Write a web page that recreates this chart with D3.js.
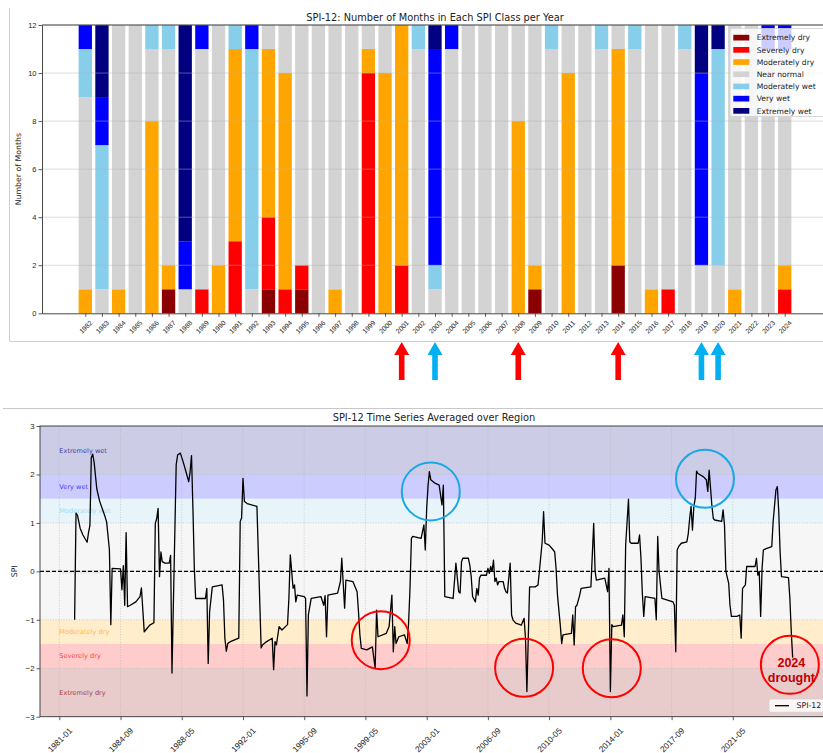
<!DOCTYPE html>
<html>
<head>
<meta charset="utf-8">
<script src="https://cdn.jsdelivr.net/npm/d3@7"></script>
<style>
  body { margin: 0; background: #fff; }
  svg { display: block; font-family: 'DejaVu Sans', sans-serif; }
</style>
</head>
<body>
<svg width="823" height="753"></svg>
<script>
// ---- data: months per SPI class per year (top panel)
const years = [1982, 1983, 1984, 1985, 1986, 1987, 1988, 1989, 1990, 1991, 1992, 1993, 1994, 1995,
  1996, 1997, 1998, 1999, 2000, 2001, 2002, 2003, 2004, 2005, 2006, 2007, 2008, 2009, 2010, 2011,
  2012, 2013, 2014, 2015, 2016, 2017, 2018, 2019, 2020, 2021, 2022, 2023, 2024]
const classNames = ['Extremely dry', 'Severely dry', 'Moderately dry', 'Near normal', 'Moderately wet', 'Very wet', 'Extremely wet']
const classColors = ['#8b0000', '#ff0000', '#ffa500', '#d3d3d3', '#87ceeb', '#0000ff', '#000080']
const extremelyDry = [0,0,0,0,0,1,0,0,0,0,0,1,0,1,0,0,0,0,0,0,0,0,0,0,0,0,0,1,0,0,0,0,2,0,0,0,0,0,0,0,0,0,0]
const severelyDry = [0,0,0,0,0,0,0,1,0,3,0,3,1,1,0,0,0,10,0,2,0,0,0,0,0,0,0,0,0,0,0,0,0,0,0,1,0,0,0,0,0,0,1]
const moderatelyDry = [1,0,1,0,8,1,0,0,2,8,0,7,9,0,0,1,0,1,10,10,0,0,0,0,0,0,8,1,0,10,0,0,9,0,1,0,0,0,0,1,0,0,1]
const nearNormal = [8,1,11,12,3,9,1,10,10,0,1,1,2,10,12,11,12,1,2,0,11,1,11,12,12,12,4,10,11,2,12,11,1,11,11,11,11,2,2,11,12,11,9]
const moderatelyWet = [2,6,0,0,1,1,0,0,0,1,10,0,0,0,0,0,0,0,0,0,1,1,0,0,0,0,0,0,1,0,0,1,0,1,0,0,1,0,9,0,0,0,0]
const veryWet = [1,2,0,0,0,0,2,1,0,0,1,0,0,0,0,0,0,0,0,0,0,9,1,0,0,0,0,0,0,0,0,0,0,0,0,0,0,8,0,0,0,1,1]
const extremelyWet = [0,3,0,0,0,0,9,0,0,0,0,0,0,0,0,0,0,0,0,0,0,1,0,0,0,0,0,0,0,0,0,0,0,0,0,0,0,2,1,0,0,0,0]
const countTicks = [0, 2, 4, 6, 8, 10, 12]

// years marked with arrows under the bars
const dryArrowYears = [2001, 2008, 2014]
const wetArrowYears = [2003, 2019, 2020]

// ---- data: SPI-12 averaged over region (bottom panel)
const spiMonths = ['1981-12','1982-01','1982-02','1982-04','1982-06','1982-09','1982-10','1982-11','1982-12',
  '1983-01','1983-02','1983-04','1983-06','1983-10','1983-11','1984-01','1984-02','1984-03','1984-09',
  '1984-10','1984-11','1984-12','1985-01','1985-02','1985-04','1985-08','1985-11','1985-12','1986-02',
  '1986-04','1986-06','1986-09','1986-10','1986-11','1986-12','1987-01','1987-02','1987-03','1987-05',
  '1987-08','1987-09','1987-10','1988-01','1988-02','1988-04','1988-06','1988-08','1988-10','1988-11',
  '1988-12','1989-01','1989-02','1989-03','1989-10','1989-11','1989-12','1990-01','1990-03','1990-10',
  '1990-11','1990-12','1991-01','1991-02','1991-04','1991-10','1991-11','1991-12','1992-01','1992-02',
  '1992-04','1992-11','1993-02','1993-03','1993-06','1993-10','1993-11','1993-12','1994-01','1994-03',
  '1994-05','1994-09','1994-10','1994-11','1995-01','1995-02','1995-03','1995-04','1995-09','1995-10',
  '1995-11','1995-12','1996-02','1996-09','1996-11','1996-12','1997-01','1997-02','1997-09','1997-11',
  '1997-12','1998-02','1998-03','1998-08','1998-11','1998-12','1999-01','1999-02','1999-06','1999-10',
  '1999-12','2000-01','2000-02','2000-08','2000-10','2000-12','2001-01','2001-02','2001-03','2001-05',
  '2001-09','2001-11','2001-12','2002-01','2002-02','2002-03','2002-09','2002-11','2002-12','2003-01',
  '2003-02','2003-03','2003-04','2003-07','2003-10','2003-12','2004-01','2004-02','2004-08','2004-10',
  '2004-12','2005-01','2005-02','2005-03','2005-07','2005-08','2005-09','2005-10','2005-12','2006-01',
  '2006-02','2006-03','2006-04','2006-08','2006-09','2006-10','2006-11','2006-12','2007-01','2007-02',
  '2007-03','2007-04','2007-05','2007-08','2007-09','2007-10','2007-11','2008-01','2008-02','2008-03',
  '2008-05','2008-09','2008-11','2008-12','2009-01','2009-03','2009-07','2009-09','2009-10','2009-12',
  '2010-01','2010-02','2010-05','2010-08','2010-09','2010-10','2010-11','2011-01','2011-02','2011-03',
  '2011-09','2011-10','2011-11','2011-12','2012-01','2012-03','2012-04','2012-11','2013-01','2013-02',
  '2013-03','2013-09','2013-11','2013-12','2014-01','2014-02','2014-03','2014-09','2014-10','2014-11',
  '2014-12','2015-02','2015-03','2015-04','2015-09','2015-10','2015-11','2015-12','2016-01','2016-02',
  '2016-09','2016-10','2016-11','2016-12','2017-02','2017-10','2017-11','2017-12','2018-01','2018-02',
  '2018-04','2018-08','2018-09','2018-10','2018-11','2018-12','2019-01','2019-02','2019-03','2019-04',
  '2019-08','2019-10','2019-11','2019-12','2020-02','2020-03','2020-04','2020-09','2020-10','2020-11',
  '2020-12','2021-02','2021-03','2021-04','2021-08','2021-10','2021-11','2021-12','2022-02','2022-03',
  '2022-09','2022-10','2022-11','2022-12','2023-01','2023-02','2023-03','2023-05','2023-09','2023-10',
  '2023-12','2024-01','2024-02','2024-03','2024-04','2024-09','2024-10','2024-11','2024-12']
const spiValues = [-1.0, 1.2, 1.16, 0.89, 0.75, 0.6, 0.8, 0.95, 2.35,
  2.42, 2.25, 1.7, 1.45, 1.12, 1.02, 0.45, -1.1, 0.06, 0.05,
  -0.38, 0.12, -0.7, 0.8, -0.73, -0.7, -0.63, -0.52, -0.34, -1.25,
  -1.18, -1.11, -1.06, 0.99, 1.09, 1.3, -0.11, 0.4, 0.2, 0.17,
  0.17, 0.33, -2.1, 2.2, 2.4, 2.44, 2.26, 2.06, 1.85, 2.06,
  2.39, 1.3, 0.06, -0.56, -0.56, -0.35, -1.9, -0.83, -0.32, -0.28,
  -0.6, -1.38, -1.65, -1.49, -1.45, -1.38, 1.03, 1.1, 1.92, 1.44,
  1.4, 1.34, -1.58, -1.52, -1.45, -1.38, -2.03, -1.45, -1.52, -1.14,
  -1.21, -1.1, -0.56, 0.34, -0.35, -0.28, -0.63, -0.49, -0.52, -0.56,
  -2.57, -0.9, -0.56, -0.52, -0.7, -0.5, -1.35, -0.49, -0.45, -0.21,
  0.27, -0.76, -0.18, -0.21, -0.42, -0.83, -1.31, -1.59, -1.62, -1.56,
  -2.0, -0.8, -1.35, -1.28, -1.14, -0.49, -1.66, -1.14, -1.49, -1.35,
  -1.31, -1.49, -1.07, -0.35, 0.68, 0.72, 0.68, 0.96, 0.44, 1.3,
  1.78, 2.06, 1.89, 1.82, 1.78, 1.37, 1.78, -0.52, -0.56, 0.17,
  -0.42, -0.45, 0.2, 0.27, 0.27, 0.13, -0.11, -0.52, -0.63, -0.35,
  -0.49, -0.14, -0.08, -0.08, 0.06, -0.04, 0.1, 0.0, 0.23, -0.21,
  -0.14, -0.28, -0.21, -0.21, -0.35, -0.42, -0.45, 0.17, -0.9, -1.0,
  -1.07, -1.11, -0.97, -1.38, -2.48, -0.32, -0.32, -0.28, 0.0, 0.61,
  1.23, 0.58, 0.54, 0.44, 0.4, 0.06, -0.49, -1.11, -1.49, -1.31,
  -1.28, -0.9, -1.52, -0.73, -0.7, -0.49, -0.35, -0.32, 0.99, 0.0,
  -0.18, -0.14, -0.42, 0.06, -2.48, -1.1, -1.14, -1.11, -0.9, -1.35,
  0.54, 1.49, 0.61, 0.58, 0.58, 0.75, 0.27, -0.45, -0.93, -0.52,
  -0.56, -1.0, 0.72, 0.0, -0.56, -0.63, -0.7, -1.66, 0.44, 0.51,
  0.58, 0.61, 0.78, 1.09, 1.34, 0.85, 1.34, 1.51, 2.07, 2.02,
  1.95, 1.89, 1.65, 2.09, 1.34, 1.09, 1.06, 1.03, 1.27, 0.96,
  0.0, -0.25, -0.7, -0.93, -0.93, -0.9, -1.38, -0.35, -0.28, 0.1,
  0.1, 0.27, -0.08, 0.0, -0.93, 0.06, 0.44, 0.47, 0.51, 1.03,
  1.68, 1.75, 1.23, 0.41, -0.11, -0.13, -0.56, -1.25, -1.78]

// SPI class bands for the background
const bandLow = [-3, -2, -1.5, -1, 1, 1.5, 2]
const bandHigh = [-2, -1.5, -1, 1, 1.5, 2, 3]
const bandMid = [-2.5, -1.75, -1.25, 0, 1.25, 1.75, 2.5]
const spiTicks = [-3, -2, -1, 0, 1, 2, 3]
const timeTicks = ['1981-01', '1984-09', '1988-05', '1992-01', '1995-09', '1999-05', '2003-01',
  '2006-09', '2010-05', '2014-01', '2017-09', '2021-05']

// circled episodes: [month, spi, colour]
const circles = [
  ['2000-04', -1.42, '#ff0000'],
  ['2003-04', 1.65, '#1aa7e6'],
  ['2008-11', -1.99, '#ff0000'],
  ['2014-02', -2.0, '#ff0000'],
  ['2019-09', 1.91, '#1aa7e6'],
  ['2024-10', -1.93, '#ff0000']
]

const svg = d3.select('svg')
const parseMonth = d3.timeParse('%Y-%m')
const textColor = '#222'

//#region frames
svg.append('path')
  .attr('d', 'M9.5,8 V341.5 H823')
  .attr('fill', 'none').attr('stroke', '#cfcfcf')
svg.append('path')
  .attr('d', 'M3,408.5 H823')
  .attr('fill', 'none').attr('stroke', '#c8c8c8')
//#endregion

//#region TOP: stacked bars
const topBox = { left: 42, right: 828, top: 25, bottom: 313.3 }
const xYear = d3.scaleLinear().domain([1979.4, 2026.6]).range([topBox.left, topBox.right])
const yCount = d3.scaleLinear().domain([0, 12]).range([topBox.bottom, topBox.top])

const table = years.map((year, i) => ({
  year,
  'Extremely dry': extremelyDry[i],
  'Severely dry': severelyDry[i],
  'Moderately dry': moderatelyDry[i],
  'Near normal': nearNormal[i],
  'Moderately wet': moderatelyWet[i],
  'Very wet': veryWet[i],
  'Extremely wet': extremelyWet[i]
}))
const stacked = d3.stack().keys(classNames)(table)
const colorOf = d3.scaleOrdinal().domain(classNames).range(classColors)

svg.append('g')
  .selectAll('g')
  .data(stacked)
  .join('g')
  .attr('fill', d => colorOf(d.key))
  .selectAll('rect')
  .data(d => d.filter(s => s[1] > s[0]))
  .join('rect')
  .attr('x', d => xYear(d.data.year - 0.4))
  .attr('width', d => xYear(d.data.year + 0.4) - xYear(d.data.year - 0.4))
  .attr('y', d => yCount(d[1]))
  .attr('height', d => yCount(d[0]) - yCount(d[1]))

// grid drawn over the bars
svg.append('g')
  .selectAll('line')
  .data(countTicks.slice(1))
  .join('line')
  .attr('x1', topBox.left).attr('x2', topBox.right)
  .attr('y1', d => yCount(d)).attr('y2', d => yCount(d))
  .attr('stroke', '#b0b0b0').attr('stroke-opacity', 0.6).attr('stroke-width', 0.8)

const yAxisTop = svg.append('g')
  .attr('transform', `translate(${topBox.left},0)`)
  .call(d3.axisLeft(yCount).tickValues(countTicks).tickSize(3.5).tickSizeOuter(0).tickPadding(2))
yAxisTop.selectAll('text').attr('font-size', '7.5px').attr('fill', textColor)

const xAxisTop = svg.append('g')
  .attr('transform', `translate(0,${topBox.bottom})`)
  .call(d3.axisBottom(xYear).tickValues(years).tickFormat(d3.format('d')).tickSize(3.5).tickSizeOuter(0))
xAxisTop.selectAll('text')
  .attr('font-size', '6.8px').attr('fill', textColor)
  .attr('text-anchor', 'middle').attr('dy', '0.35em').attr('y', 0)
  .attr('transform', function (d) {
    const h = 0.707 * (this.getComputedTextLength() + 6.8)
    return `translate(0,${6 + h / 2}) rotate(-45)`
  })

svg.selectAll('.domain').attr('stroke', '#333').attr('stroke-width', 0.9)
svg.selectAll('.tick line').attr('stroke', '#333').attr('stroke-width', 0.8)

svg.append('line')
  .attr('x1', topBox.left).attr('x2', topBox.right)
  .attr('y1', topBox.top).attr('y2', topBox.top)
  .attr('stroke', '#333').attr('stroke-width', 0.9)

svg.append('text')
  .attr('x', 435).attr('y', 20.5)
  .attr('text-anchor', 'middle').attr('font-size', '9.8px').attr('fill', textColor)
  .text('SPI-12: Number of Months in Each SPI Class per Year')

svg.append('text')
  .attr('transform', `translate(20.5,${(topBox.top + topBox.bottom) / 2}) rotate(-90)`)
  .attr('text-anchor', 'middle').attr('font-size', '7.8px').attr('fill', textColor)
  .text('Number of Months')

// legend
const legTop = svg.append('g').attr('transform', 'translate(730,28.5)')
legTop.append('rect')
  .attr('width', 100).attr('height', 88).attr('rx', 2.5)
  .attr('fill', '#fff').attr('fill-opacity', 0.8).attr('stroke', '#d0d0d0').attr('stroke-width', 0.8)
const legItems = legTop.selectAll('g.item')
  .data(classNames)
  .join('g')
  .attr('class', 'item')
  .attr('transform', (d, i) => `translate(0,${9.2 + i * 12.2})`)
legItems.append('rect')
  .attr('x', 3.3).attr('y', -2.9).attr('width', 16).attr('height', 5.7)
  .attr('fill', d => colorOf(d))
legItems.append('text')
  .attr('x', 26.7).attr('dy', '0.35em')
  .attr('font-size', '7.6px').attr('fill', textColor)
  .text(d => d)
//#endregion

//#region arrows between panels
const arrowPath = 'M0,0 L7.5,13 L2.8,13 L2.8,38 L-2.8,38 L-2.8,13 L-7.5,13 Z'
const arrows = dryArrowYears.map(y => [y, '#ff0000']).concat(wetArrowYears.map(y => [y, '#00b0f0']))
svg.append('g')
  .selectAll('path')
  .data(arrows)
  .join('path')
  .attr('transform', d => `translate(${xYear(d[0])},342)`)
  .attr('d', arrowPath)
  .attr('fill', d => d[1])
//#endregion

//#region BOTTOM: SPI time series
const bot = { left: 40, right: 828, top: 426, bottom: 716.7 }
const xTime = d3.scaleTime()
  .domain([new Date(1979, 10, 5), new Date(2027, 0, 13)])
  .range([bot.left, bot.right])
const ySpi = d3.scaleLinear().domain([-3, 3]).range([bot.bottom, bot.top])

svg.append('clipPath').attr('id', 'plot-clip')
  .append('rect')
  .attr('x', bot.left).attr('y', bot.top)
  .attr('width', bot.right - bot.left).attr('height', bot.bottom - bot.top)

const plot = svg.append('g').attr('clip-path', 'url(#plot-clip)')

plot.selectAll('rect.band')
  .data(classNames)
  .join('rect')
  .attr('class', 'band')
  .attr('x', bot.left).attr('width', bot.right - bot.left)
  .attr('y', (d, i) => ySpi(bandHigh[i]))
  .attr('height', (d, i) => ySpi(bandLow[i]) - ySpi(bandHigh[i]))
  .attr('fill', d => colorOf(d)).attr('fill-opacity', 0.2)

// dotted grid
plot.selectAll('line.vgrid')
  .data(timeTicks)
  .join('line')
  .attr('class', 'vgrid')
  .attr('x1', d => xTime(parseMonth(d))).attr('x2', d => xTime(parseMonth(d)))
  .attr('y1', bot.top).attr('y2', bot.bottom)
  .attr('stroke', '#b0b0b0').attr('stroke-opacity', 0.7).attr('stroke-width', 0.8)
  .attr('stroke-dasharray', '1,1.6')
plot.selectAll('line.hgrid')
  .data(spiTicks)
  .join('line')
  .attr('class', 'hgrid')
  .attr('x1', bot.left).attr('x2', bot.right)
  .attr('y1', d => ySpi(d)).attr('y2', d => ySpi(d))
  .attr('stroke', '#b0b0b0').attr('stroke-opacity', 0.7).attr('stroke-width', 0.8)
  .attr('stroke-dasharray', '1,1.6')

plot.selectAll('text.band-label')
  .data(classNames)
  .join('text')
  .attr('class', 'band-label')
  .attr('x', xTime(parseMonth('1981-01')))
  .attr('y', (d, i) => ySpi(bandMid[i]))
  .attr('dy', '0.35em')
  .attr('font-size', '6.6px')
  .attr('fill', d => colorOf(d)).attr('fill-opacity', 0.75)
  .text(d => d)

plot.append('line')
  .attr('x1', bot.left).attr('x2', bot.right)
  .attr('y1', ySpi(0)).attr('y2', ySpi(0))
  .attr('stroke', '#000').attr('stroke-width', 1.2).attr('stroke-dasharray', '4,2')

const spiLine = d3.line()
  .x((d, i) => xTime(parseMonth(spiMonths[i])))
  .y(d => ySpi(d))
plot.append('path')
  .datum(spiValues)
  .attr('d', spiLine)
  .attr('fill', 'none')
  .attr('stroke', '#000').attr('stroke-width', 1.3).attr('stroke-linejoin', 'round')

// spines
svg.append('rect')
  .attr('x', bot.left).attr('y', bot.top)
  .attr('width', bot.right - bot.left).attr('height', bot.bottom - bot.top)
  .attr('fill', 'none').attr('stroke', '#333').attr('stroke-width', 0.9)

const yAxisBot = svg.append('g')
  .attr('transform', `translate(${bot.left},0)`)
  .call(d3.axisLeft(ySpi).tickValues(spiTicks).tickFormat(d3.format('d')).tickSize(3.5).tickSizeOuter(0).tickPadding(2))
yAxisBot.selectAll('text').attr('font-size', '7.8px').attr('fill', textColor)

const xAxisBot = svg.append('g')
  .attr('transform', `translate(0,${bot.bottom})`)
  .call(d3.axisBottom(xTime).tickValues(timeTicks.map(parseMonth)).tickFormat(d3.timeFormat('%Y-%m')).tickSize(3.5).tickSizeOuter(0))
xAxisBot.selectAll('text')
  .attr('font-size', '8.3px').attr('fill', textColor)
  .attr('text-anchor', 'middle').attr('dy', '0.35em').attr('y', 0)
  .attr('transform', function (d) {
    const h = 0.707 * (this.getComputedTextLength() + 8.3)
    return `translate(0,${9.5 + h / 2}) rotate(-45)`
  })
xAxisBot.select('.domain').remove()
yAxisBot.select('.domain').remove()
svg.selectAll('.tick line').attr('stroke', '#333').attr('stroke-width', 0.8)

svg.append('text')
  .attr('x', 434).attr('y', 420.5)
  .attr('text-anchor', 'middle').attr('font-size', '9.8px').attr('fill', textColor)
  .text('SPI-12 Time Series Averaged over Region')

svg.append('text')
  .attr('transform', `translate(17,${ySpi(0)}) rotate(-90)`)
  .attr('text-anchor', 'middle').attr('font-size', '7.8px').attr('fill', textColor)
  .text('SPI')

// legend
const legBot = svg.append('g').attr('transform', 'translate(769,699)')
legBot.append('rect')
  .attr('width', 60).attr('height', 13.3).attr('rx', 2)
  .attr('fill', '#fff').attr('fill-opacity', 0.8).attr('stroke', '#d0d0d0').attr('stroke-width', 0.8)
legBot.append('line')
  .attr('x1', 6).attr('x2', 20).attr('y1', 6.7).attr('y2', 6.7)
  .attr('stroke', '#000').attr('stroke-width', 1.3)
legBot.append('text')
  .attr('x', 27.5).attr('y', 6.7).attr('dy', '0.35em')
  .attr('font-size', '7.8px').attr('fill', textColor)
  .text('SPI-12')
//#endregion

//#region annotations
svg.append('g')
  .selectAll('circle')
  .data(circles)
  .join('circle')
  .attr('cx', d => xTime(parseMonth(d[0])))
  .attr('cy', d => ySpi(d[1]))
  .attr('r', 29)
  .attr('fill', 'none')
  .attr('stroke', d => d[2]).attr('stroke-width', 2)

const last = circles[circles.length - 1]
svg.append('text')
  .attr('x', xTime(parseMonth(last[0])) + 1.5)
  .attr('y', ySpi(last[1]))
  .attr('text-anchor', 'middle')
  .attr('font-family', "'Liberation Sans', sans-serif").attr('font-weight', 'bold')
  .attr('font-size', '12.5px').attr('fill', '#c00000')
  .selectAll('tspan')
  .data(['2024', 'drought'])
  .join('tspan')
  .attr('x', xTime(parseMonth(last[0])) + 1.5)
  .attr('dy', (d, i) => i === 0 ? 2.3 : 14.5)
  .text(d => d)
//#endregion
</script>
</body>
</html>
